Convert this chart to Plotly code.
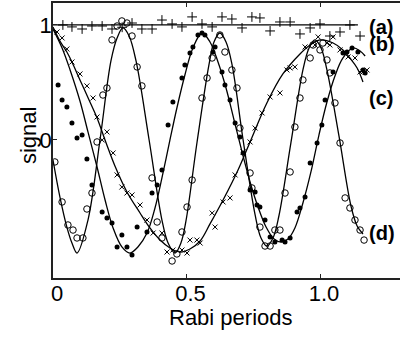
import plotly.graph_objects as go

# ---------------- data (x in Rabi periods, y = signal) ----------------
# (a) flat reference line and "+" data
a_line_x = [0.0, 1.142]
a_line_y = [1.0, 1.0]
a_x = [0.037, 0.071, 0.109, 0.146, 0.184, 0.221, 0.259, 0.296, 0.333, 0.371, 0.408, 0.446,
       0.483, 0.521, 0.558, 0.596, 0.633, 0.670, 0.708, 0.745, 0.775, 0.813, 0.850, 0.888,
       0.925, 0.963, 1.0, 1.037, 1.075, 1.112, 1.150]
a_y = [1.0, 0.983, 0.965, 0.991, 0.991, 0.965, 0.98, 1.017, 0.965, 0.965, 1.043, 1.009,
       0.983, 1.07, 1.009, 0.983, 1.07, 1.052, 0.974, 1.07, 1.061, 0.948, 1.026, 1.026,
       0.922, 0.974, 1.009, 0.904, 0.939, 1.0, 0.904]

# (b) fit curve and filled-dot data
b_fit_x = [0, 0.034, 0.064, 0.101, 0.131, 0.165, 0.195, 0.225, 0.258, 0.288, 0.318, 0.352,
           0.382, 0.408, 0.438, 0.464, 0.494, 0.524, 0.558, 0.588, 0.618, 0.648, 0.678, 0.708,
           0.738, 0.768, 0.798, 0.828, 0.854, 0.880, 0.906, 0.936, 0.966, 0.996, 1.026, 1.056,
           1.086, 1.124, 1.150, 1.169]
b_fit_y = [0.965, 0.8, 0.609, 0.339, 0.070, -0.235, -0.522, -0.765, -0.930, -0.983, -0.930,
           -0.809, -0.591, -0.330, 0, 0.278, 0.565, 0.8, 0.930, 0.852, 0.678, 0.452, 0.174,
           -0.104, -0.365, -0.583, -0.757, -0.861, -0.887, -0.861, -0.765, -0.548, -0.278,
           0.043, 0.330, 0.557, 0.713, 0.8, 0.774, 0.730]
b_x = [0.019, 0.034, 0.052, 0.071, 0.090, 0.109, 0.127, 0.146, 0.184, 0.202, 0.221, 0.240,
       0.258, 0.277, 0.296, 0.315, 0.352, 0.371, 0.390, 0.408, 0.431, 0.449, 0.483, 0.494,
       0.513, 0.524, 0.543, 0.558, 0.569, 0.599, 0.607, 0.633, 0.644, 0.663, 0.682, 0.700,
       0.712, 0.738, 0.757, 0.764, 0.775, 0.794, 0.813, 0.831, 0.858, 0.869, 0.888, 0.914,
       0.925, 0.944, 0.963, 0.989, 1.007, 1.019, 1.049, 1.086, 1.101, 1.120, 1.142, 1.161, 1.169]
b_y = [0.478, 0.348, 0.287, 0.148, 0.017, 0.043, -0.165, -0.391, -0.626, -0.678, -0.722,
       -0.930, -0.826, -0.930, -1.0, -0.757, -0.8, -0.461, -0.391, -0.261, 0.130, 0.330,
       0.539, 0.652, 0.757, 0.809, 0.913, 0.930, 0.913, 0.765, 0.809, 0.591, 0.478, 0.348,
       0.148, 0.026, -0.113, -0.435, -0.452, -0.565, -0.583, -0.696, -0.843, -0.887, -0.870,
       -0.887, -0.852, -0.626, -0.591, -0.496, -0.2, -0.026, 0.130, 0.348, 0.591, 0.757,
       0.765, 0.8, 0.765, 0.609, 0.583]

# (c) fit curve and "x" data
c_fit_x = [0, 0.026, 0.052, 0.071, 0.101, 0.135, 0.165, 0.199, 0.232, 0.277, 0.326, 0.363,
           0.401, 0.438, 0.476, 0.513, 0.551, 0.588, 0.637, 0.693, 0.738, 0.801, 0.861, 0.925,
           0.963, 1.0, 1.049, 1.086, 1.112, 1.139, 1.161]
c_fit_y = [0.983, 0.861, 0.765, 0.678, 0.522, 0.348, 0.191, -0.026, -0.226, -0.452, -0.635,
           -0.765, -0.870, -0.939, -0.974, -0.948, -0.878, -0.730, -0.522, -0.261, -0.017,
           0.322, 0.574, 0.748, 0.826, 0.870, 0.843, 0.783, 0.713, 0.626, 0.504]
c_x = [0.015, 0.034, 0.052, 0.071, 0.101, 0.127, 0.150, 0.165, 0.184, 0.202, 0.225, 0.240,
       0.258, 0.277, 0.296, 0.326, 0.352, 0.375, 0.408, 0.427, 0.449, 0.483, 0.502, 0.513,
       0.539, 0.551, 0.596, 0.607, 0.637, 0.663, 0.682, 0.712, 0.738, 0.757, 0.783, 0.813,
       0.850, 0.876, 0.888, 0.906, 0.944, 0.981, 0.993, 1.026, 1.037, 1.049, 1.075, 1.105,
       1.131, 1.150, 1.161, 1.176]
c_y = [0.939, 0.887, 0.791, 0.678, 0.574, 0.470, 0.365, 0.2, 0, 0.070, -0.113, -0.304,
       -0.409, -0.461, -0.478, -0.565, -0.696, -0.809, -0.809, -0.974, -0.957, -0.957,
       -0.983, -0.870, -0.870, -0.896, -0.635, -0.757, -0.539, -0.504, -0.304, -0.104,
       -0.017, 0.104, 0.235, 0.374, 0.409, 0.609, 0.626, 0.635, 0.809, 0.826, 0.896, 0.843,
       0.826, 0.896, 0.783, 0.722, 0.713, 0.591, 0.591, 0.609]

# (d) fit curve and open-circle data
d_fit_x = [0, 0.026, 0.052, 0.071, 0.090, 0.131, 0.176, 0.217, 0.240, 0.262, 0.285, 0.311,
           0.360, 0.408, 0.431, 0.457, 0.479, 0.498, 0.539, 0.584, 0.603, 0.625, 0.648, 0.670,
           0.712, 0.757, 0.779, 0.801, 0.824, 0.846, 0.891, 0.936, 0.959, 0.981, 1.004, 1.026,
           1.071, 1.116, 1.139, 1.161]
d_fit_y = [-0.174, -0.496, -0.757, -0.896, -0.983, -0.696, 0, 0.687, 0.887, 0.974, 0.904,
           0.687, 0, -0.696, -0.896, -0.983, -0.896, -0.704, -0.026, 0.652, 0.852, 0.930,
           0.852, 0.661, 0, -0.652, -0.852, -0.922, -0.852, -0.661, -0.026, 0.609, 0.8, 0.870,
           0.8, 0.609, 0.035, -0.574, -0.748, -0.817]
d_x = [0.007, 0.034, 0.056, 0.075, 0.090, 0.112, 0.127, 0.146, 0.165, 0.187, 0.202, 0.221,
       0.240, 0.258, 0.277, 0.296, 0.315, 0.333, 0.371, 0.390, 0.408, 0.446, 0.464, 0.483,
       0.502, 0.521, 0.558, 0.577, 0.596, 0.625, 0.644, 0.670, 0.689, 0.700, 0.738, 0.745,
       0.775, 0.794, 0.813, 0.831, 0.850, 0.869, 0.888, 0.906, 0.925, 0.936, 0.963, 0.974,
       1.0, 1.011, 1.026, 1.037, 1.056, 1.075, 1.094, 1.112, 1.131, 1.150, 1.165]
d_y = [-0.191, -0.539, -0.739, -0.783, -0.852, -0.852, -0.6, -0.461, -0.017, 0.391, 0.452,
       0.870, 0.991, 1.035, 1.017, 0.904, 0.635, 0.470, -0.330, -0.713, -0.852, -1.052,
       -0.991, -0.8, -0.583, -0.348, 0.365, 0.539, 0.713, 0.913, 0.765, 0.609, 0.452, 0.104,
       -0.287, -0.417, -0.757, -0.922, -0.922, -0.783, -0.783, -0.461, -0.278, 0.113, 0.365,
       0.522, 0.713, 0.826, 0.783, 0.843, 0.696, 0.583, 0.322, -0.026, -0.504, -0.591,
       -0.696, -0.783, -0.870]

curve_labels = ["(a)", "(b)", "(c)", "(d)"]
label_x = [1.176, 1.176, 1.176, 1.176]
label_y = [0.983, 0.835, 0.365, -0.809]

x_tick_vals = [0, 0.5, 1.0]
x_tick_text = ["0", "0.5", "1.0"]
y_tick_vals = [0, 1]
y_tick_text = ["0", "1"]

# ---------------- figure ----------------
FONT = "Liberation Sans, Arial, Helvetica, sans-serif"
fig = go.Figure()

line_style = dict(color="black", width=1.3)

fig.add_trace(go.Scatter(x=a_line_x, y=a_line_y, mode="lines", line=line_style))
fig.add_trace(go.Scatter(x=b_fit_x, y=b_fit_y, mode="lines", line=dict(line_style, shape="spline")))
fig.add_trace(go.Scatter(x=c_fit_x, y=c_fit_y, mode="lines", line=dict(line_style, shape="spline")))
fig.add_trace(go.Scatter(x=d_fit_x, y=d_fit_y, mode="lines", line=dict(line_style, shape="spline")))

fig.add_trace(go.Scatter(x=a_x, y=a_y, mode="markers",
                         marker=dict(symbol="cross-thin", size=7, line=dict(color="black", width=1))))
fig.add_trace(go.Scatter(x=b_x, y=b_y, mode="markers",
                         marker=dict(symbol="circle", size=5, color="black", line=dict(width=0))))
fig.add_trace(go.Scatter(x=c_x, y=c_y, mode="markers",
                         marker=dict(symbol="x-thin", size=5, line=dict(color="black", width=1))))
fig.add_trace(go.Scatter(x=d_x, y=d_y, mode="markers",
                         marker=dict(symbol="circle-open", size=6.5, color="black", line=dict(width=1))))

for t, lx, ly in zip(curve_labels, label_x, label_y):
    fig.add_annotation(x=lx, y=ly, xref="x", yref="y", text="<b>%s</b>" % t, showarrow=False,
                       xanchor="left", yanchor="middle",
                       font=dict(family=FONT, size=20, color="black"))

fig.add_annotation(x=-0.072, y=0.516, xref="paper", yref="paper", text="signal", textangle=-90,
                   showarrow=False, xanchor="center", yanchor="middle",
                   font=dict(family=FONT, size=22, color="black"))
fig.add_annotation(x=0.513, y=-0.145, xref="paper", yref="paper", text="Rabi periods",
                   showarrow=False, xanchor="center", yanchor="middle",
                   font=dict(family=FONT, size=22, color="black"))

axis_common = dict(showgrid=False, zeroline=False, showline=True, linecolor="#222",
                   linewidth=1.5, ticks="inside", ticklen=4, tickwidth=1, tickcolor="#222",
                   tickfont=dict(family=FONT, size=22, color="black"))

fig.update_xaxes(range=[0, 1.2996], tickvals=x_tick_vals, ticktext=x_tick_text,
                 mirror="ticks", ticklabelshift=4, ticklabelstandoff=-5, **axis_common)
fig.update_yaxes(range=[-1.2, 1.191], tickvals=y_tick_vals, ticktext=y_tick_text,
                 mirror=False, ticklabelstandoff=-5, **axis_common)

fig.update_layout(width=400, height=337, margin=dict(l=53, r=0, t=3, b=59),
                  paper_bgcolor="white", plot_bgcolor="white", showlegend=False)

fig.write_html("out.html", config={"displayModeBar": False},
               post_script="document.body.style.margin='0';document.body.style.overflow='hidden';")
